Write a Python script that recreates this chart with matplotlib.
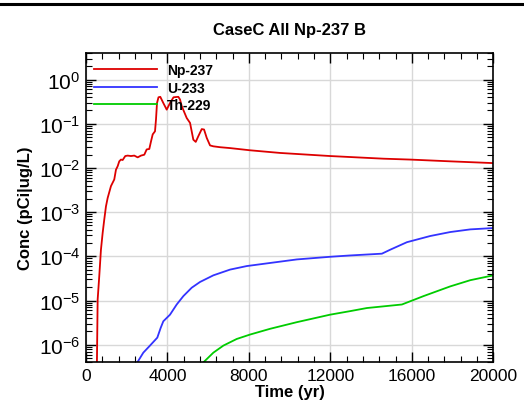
import numpy as np
import matplotlib
matplotlib.use("Agg")
import matplotlib.pyplot as plt
from matplotlib.ticker import MultipleLocator, LogLocator, NullFormatter, FixedLocator

plt.rcParams['font.family'] = ['Liberation Sans', 'DejaVu Sans']
plt.rcParams['mathtext.fontset'] = 'custom'
plt.rcParams['mathtext.rm'] = 'Liberation Sans'
plt.rcParams['mathtext.it'] = 'Liberation Sans'
plt.rcParams['mathtext.bf'] = 'Liberation Sans:bold'

# ---- data (time in yr, log10 concentration) ----
np237_t = [500, 575, 654, 737, 821, 899, 983, 1066, 1229, 1391, 1474, 1558, 1636,
           1720, 1803, 1931, 2049, 2211, 2373, 2541, 2703, 2865, 2983, 3111, 3194,
           3278, 3391, 3440, 3489, 3563, 3651, 3799, 3966, 4128, 4300, 4536, 4619,
           4703, 4948, 5111, 5273, 5391, 5519, 5686, 5799, 5931, 6094, 6256, 6585,
           7076, 8059, 9533, 11990, 14610, 15921, 17887, 20000]
np237_log = [-8.0, -4.98, -4.45, -3.85, -3.47, -3.17, -2.87, -2.68, -2.41, -2.26, -2.04,
             -1.96, -1.85, -1.81, -1.82, -1.73, -1.72, -1.73, -1.72, -1.76, -1.72, -1.70,
             -1.58, -1.57, -1.40, -1.24, -1.17, -0.90, -0.53, -0.40, -0.39, -0.53, -0.68,
             -0.53, -0.40, -0.39, -0.45, -0.60, -0.87, -0.98, -1.36, -1.41, -1.28, -1.12,
             -1.13, -1.32, -1.49, -1.51, -1.53, -1.55, -1.60, -1.66, -1.73, -1.79, -1.81,
             -1.85, -1.89]

u233_t = [2450, 2523, 2817, 3145, 3504, 3669, 3799, 4128, 4456, 4783, 5193, 5602, 6256,
          7076, 7896, 9042, 10354, 11990, 12973, 14530, 14939, 15759, 16904, 17887,
          18870, 20000]
u233_log = [-6.46, -6.40, -6.18, -6.02, -5.84, -5.62, -5.47, -5.32, -5.09, -4.90, -4.71,
            -4.58, -4.43, -4.30, -4.22, -4.15, -4.07, -4.01, -3.98, -3.94, -3.85, -3.68,
            -3.54, -3.45, -3.39, -3.36]

th229_t = [5650, 5766, 6256, 6748, 7404, 8059, 9042, 10354, 11990, 12973, 13793, 15513,
           16575, 17887, 18870, 20000]
th229_log = [-6.48, -6.40, -6.18, -6.02, -5.87, -5.77, -5.64, -5.49, -5.32, -5.24, -5.17,
             -5.09, -4.90, -4.68, -4.54, -4.43]

series = [
    ("Np-237", np237_t, np237_log, "#dd0000"),
    ("U-233", u233_t, u233_log, "#3333ff"),
    ("Th-229", th229_t, th229_log, "#00cc00"),
]

fig = plt.figure(figsize=(5.24, 4.06), dpi=100)
ax = fig.add_axes([0.164, 0.1052, 0.9414 - 0.164, 0.867 - 0.1052])

for name, t, lg, c in series:
    ax.plot(t, 10.0 ** np.array(lg), color=c, lw=1.3, label=name)

ax.set_yscale('log')
ax.set_xlim(0, 20000)
ax.set_ylim(4e-7, 4)

ax.xaxis.set_major_locator(MultipleLocator(4000))
ax.xaxis.set_minor_locator(MultipleLocator(800))
ax.yaxis.set_major_locator(FixedLocator([10.0 ** k for k in range(-6, 1)]))
ax.yaxis.set_minor_locator(LogLocator(base=10, subs=np.arange(2, 10), numticks=20))
ax.yaxis.set_minor_formatter(NullFormatter())
ax.set_yticklabels([r'$10^{%d}$' % k for k in range(-6, 1)])

ax.tick_params(which='both', direction='in', top=True, right=True, color='black')
ax.tick_params(which='major', length=7, width=1, labelsize=15, pad=4)
ax.tick_params(axis='x', which='major', labelsize=12.5, pad=4)
ax.tick_params(which='minor', length=4, width=0.8)

ax.grid(True, which='major', color='#d8d8d8', lw=1)
ax.set_axisbelow(True)
for s in ax.spines.values():
    s.set_linewidth(1.2)

ax.set_xlabel('Time (yr)', fontsize=12, fontweight='bold', labelpad=1)
ax.set_ylabel('Conc (pCi|ug/L)', fontsize=12, fontweight='bold', labelpad=4)
ax.set_title('CaseC All Np-237 B', fontsize=12, fontweight='bold', pad=14)

leg = ax.legend(loc='upper left', bbox_to_anchor=(0.005, 0.985), frameon=False,
                handlelength=4.6, handletextpad=0.7, labelspacing=0.25,
                prop={'weight': 'bold', 'size': 10}, borderaxespad=0)

fig.add_artist(plt.Line2D([0, 1], [1 - 4.5 / 406, 1 - 4.5 / 406], color='black', lw=2.2,
                          transform=fig.transFigure))

fig.savefig('out.png', dpi=100)
